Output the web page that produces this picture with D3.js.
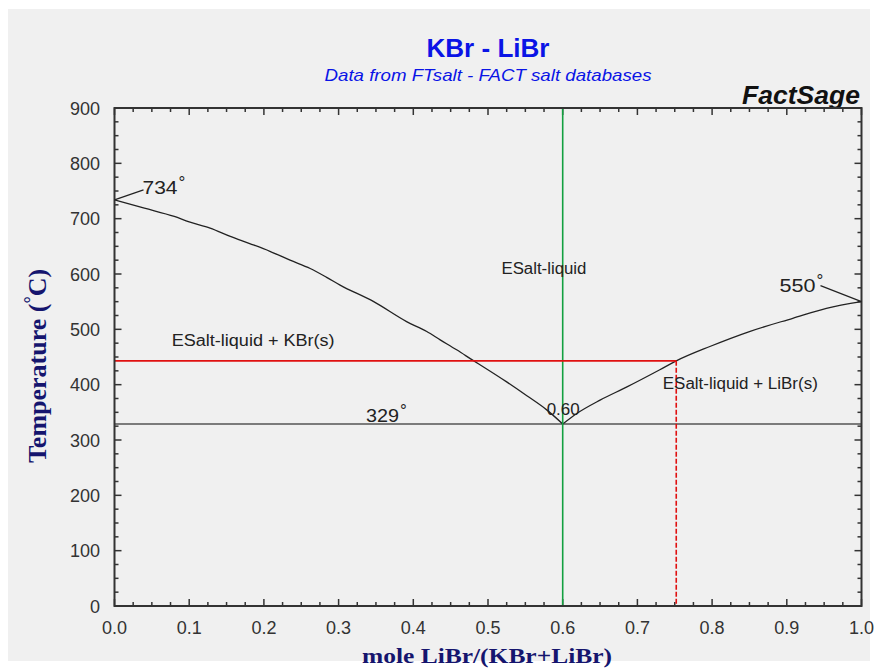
<!DOCTYPE html>
<html>
<head>
<meta charset="utf-8">
<script src="https://cdn.jsdelivr.net/npm/d3@7"></script>
<style>
  html, body { margin: 0; padding: 0; background: #ffffff; }
  svg { display: block; }
</style>
</head>
<body>
<svg id="chart" width="878" height="669"></svg>
<script>
// KBr - LiBr phase diagram: liquidus branches, eutectic line and a lever construction

// Liquidus branch in equilibrium with KBr(s): mole fraction LiBr vs temperature (°C)
const kbrLiquidusX = [0.000, 0.040, 0.080, 0.100, 0.128, 0.155, 0.181, 0.208, 0.235, 0.262, 0.284, 0.302, 0.347, 0.391, 0.418, 0.436, 0.458, 0.481, 0.494, 0.525, 0.552, 0.579, 0.600];
const kbrLiquidusT = [734, 719, 704, 694, 683, 668, 655, 641, 625, 610, 594, 580, 550, 514, 496, 481, 463, 443, 432, 405, 380, 354, 329];

// Liquidus branch in equilibrium with LiBr(s)
const librLiquidusX = [0.600, 0.619, 0.650, 0.686, 0.730, 0.752, 0.797, 0.850, 0.908, 0.953, 1.000];
const librLiquidusT = [329, 348, 372, 396, 427, 443, 469, 496, 520, 538, 550];

// Invariant points
const meltKBr = 734, meltLiBr = 550, eutecticT = 329, eutecticX = 0.60;

// Isotherm / composition markers
const isothermT = 443;
const isothermXEnd = 0.752;
const compositionX = 0.60;

// Tick values
const xTicks = [0.0, 0.1, 0.2, 0.3, 0.4, 0.5, 0.6, 0.7, 0.8, 0.9, 1.0];
const yTicks = [0, 100, 200, 300, 400, 500, 600, 700, 800, 900];

// Phase field labels, anchored at (mole fraction, temperature)
const fieldLabels = ["ESalt-liquid", "ESalt-liquid + KBr(s)", "ESalt-liquid + LiBr(s)"];
const fieldAnchors = [[0.518, 600], [0.0765, 470], [0.734, 392]];
const fieldWidths = [85, 163, 155];

const svg = d3.select("#chart");
const W = 878, H = 669;
const plotL = 114.5, plotR = 861.5, plotT = 108, plotB = 606;

svg.append("rect").attr("x", 8).attr("y", 9).attr("width", W - 16).attr("height", H - 17)
  .attr("fill", "#f0f0f0");

const x = d3.scaleLinear().domain([0, 1]).range([plotL, plotR]);
const y = d3.scaleLinear().domain([0, 900]).range([plotB, plotT]);

// Titles
svg.append("text").attr("x", 488).attr("y", 57).attr("text-anchor", "middle")
  .attr("font-family", "Liberation Sans, Arial, sans-serif").attr("font-weight", "bold")
  .attr("font-size", 25).attr("fill", "#0a14e6").attr("textLength", 123).attr("lengthAdjust", "spacingAndGlyphs")
  .text("KBr - LiBr");
svg.append("text").attr("x", 488).attr("y", 81).attr("text-anchor", "middle")
  .attr("font-family", "Liberation Sans, Arial, sans-serif").attr("font-style", "italic")
  .attr("font-size", 17).attr("fill", "#0a14e6").attr("textLength", 327).attr("lengthAdjust", "spacingAndGlyphs")
  .text("Data from FTsalt - FACT salt databases");
svg.append("text").attr("x", 860).attr("y", 104).attr("text-anchor", "end")
  .attr("font-family", "Liberation Sans, Arial, sans-serif").attr("font-style", "italic").attr("font-weight", "bold")
  .attr("font-size", 25).attr("fill", "#111").attr("textLength", 118).attr("lengthAdjust", "spacingAndGlyphs")
  .text("FactSage");

// Axes with inward ticks on all four sides
const minorX = d3.range(0, 1.0001, 0.025);
const minorY = d3.range(0, 900.1, 25);
const axisColor = "#333";
const tickG = svg.append("g").attr("stroke", axisColor).attr("stroke-width", 1.5);
minorX.forEach(v => {
  const major = Math.abs(v * 10 - Math.round(v * 10)) < 1e-6;
  const len = major ? 7 : 4;
  tickG.append("line").attr("x1", x(v)).attr("x2", x(v)).attr("y1", plotB).attr("y2", plotB - len);
  tickG.append("line").attr("x1", x(v)).attr("x2", x(v)).attr("y1", plotT).attr("y2", plotT + len);
});
minorY.forEach(v => {
  const major = v % 100 === 0;
  const len = major ? 7 : 4;
  tickG.append("line").attr("x1", plotL).attr("x2", plotL + len).attr("y1", y(v)).attr("y2", y(v));
  tickG.append("line").attr("x1", plotR).attr("x2", plotR - len).attr("y1", y(v)).attr("y2", y(v));
});

// Tick labels
const tickFont = "Liberation Sans, Arial, sans-serif";
svg.append("g").selectAll("text").data(xTicks).join("text")
  .attr("x", d => x(d)).attr("y", 634).attr("text-anchor", "middle")
  .attr("font-family", tickFont).attr("font-size", 18).attr("fill", "#333")
  .text(d => d3.format(".1f")(d));
svg.append("g").selectAll("text").data(yTicks).join("text")
  .attr("x", 100).attr("y", d => y(d) + 6.5).attr("text-anchor", "end")
  .attr("font-family", tickFont).attr("font-size", 18).attr("fill", "#333")
  .text(d => d);

// Axis titles
svg.append("text").attr("x", 487).attr("y", 663).attr("text-anchor", "middle")
  .attr("font-family", "Liberation Serif, Times New Roman, serif").attr("font-weight", "bold")
  .attr("font-size", 21).attr("fill", "#15156e").attr("textLength", 250).attr("lengthAdjust", "spacingAndGlyphs")
  .text("mole LiBr/(KBr+LiBr)");
const yTitle = svg.append("text").attr("transform", "translate(46,366) rotate(-90)")
  .attr("text-anchor", "middle")
  .attr("font-family", "Liberation Serif, Times New Roman, serif").attr("font-weight", "bold")
  .attr("font-size", 26).attr("fill", "#15156e");
yTitle.append("tspan").text("Temperature (");
yTitle.append("tspan").attr("font-size", 18).attr("dy", -9).text("°");
yTitle.append("tspan").attr("dy", 9).text("C)");

// Eutectic isotherm
svg.append("line").attr("x1", x(0)).attr("x2", x(1)).attr("y1", y(eutecticT)).attr("y2", y(eutecticT))
  .attr("stroke", "#555").attr("stroke-width", 1.6);

// Liquidus curves
const line = d3.line().x(d => x(d[0])).y(d => y(d[1])).curve(d3.curveMonotoneX);
svg.append("path").datum(d3.zip(kbrLiquidusX, kbrLiquidusT)).attr("d", line)
  .attr("fill", "none").attr("stroke", "#222").attr("stroke-width", 1.3);
svg.append("path").datum(d3.zip(librLiquidusX, librLiquidusT)).attr("d", line)
  .attr("fill", "none").attr("stroke", "#222").attr("stroke-width", 1.3);

// Composition marker
svg.append("line").attr("x1", x(compositionX)).attr("x2", x(compositionX)).attr("y1", y(900)).attr("y2", y(0))
  .attr("stroke", "#13a040").attr("stroke-width", 1.6);

// Isotherm to the LiBr liquidus and drop to the composition axis
svg.append("line").attr("x1", x(0)).attr("x2", x(isothermXEnd)).attr("y1", y(isothermT)).attr("y2", y(isothermT))
  .attr("stroke", "#e01010").attr("stroke-width", 1.6);
svg.append("line").attr("x1", x(isothermXEnd)).attr("x2", x(isothermXEnd)).attr("y1", y(isothermT)).attr("y2", y(0))
  .attr("stroke", "#e01010").attr("stroke-width", 1.6).attr("stroke-dasharray", "5,2");

// Frame
svg.append("rect").attr("x", plotL).attr("y", plotT).attr("width", plotR - plotL).attr("height", plotB - plotT)
  .attr("fill", "none").attr("stroke", axisColor).attr("stroke-width", 2);

// Invariant point labels with leader lines
const labFont = "Liberation Sans, Arial, sans-serif";
function degLabel(px, py, txt, width) {
  const t = svg.append("text").attr("x", px).attr("y", py)
    .attr("font-family", labFont).attr("font-size", 18).attr("fill", "#222");
  t.append("tspan").attr("textLength", width).attr("lengthAdjust", "spacingAndGlyphs").text(txt);
  t.append("tspan").attr("font-size", 17).attr("dy", -6).attr("dx", 1).text("°");
}
svg.append("line").attr("x1", x(0)).attr("y1", y(meltKBr)).attr("x2", x(0) + 29).attr("y2", y(meltKBr) - 10)
  .attr("stroke", "#222").attr("stroke-width", 1.2);
degLabel(x(0) + 28, y(meltKBr) - 6, String(meltKBr), 35);

svg.append("line").attr("x1", x(1)).attr("y1", y(meltLiBr)).attr("x2", x(1) - 41).attr("y2", y(meltLiBr) - 16)
  .attr("stroke", "#222").attr("stroke-width", 1.2);
degLabel(x(1) - 82, y(meltLiBr) - 10, String(meltLiBr), 36);

degLabel(366, y(eutecticT) - 2, String(eutecticT), 33);

svg.append("text").attr("x", x(eutecticX) - 16).attr("y", y(eutecticT) - 9)
  .attr("font-family", labFont).attr("font-size", 16).attr("fill", "#222")
  .attr("textLength", 33).attr("lengthAdjust", "spacingAndGlyphs")
  .text(d3.format(".2f")(eutecticX));

// Phase field labels
svg.append("g").selectAll("text").data(fieldLabels).join("text")
  .attr("x", (d, i) => x(fieldAnchors[i][0])).attr("y", (d, i) => y(fieldAnchors[i][1]))
  .attr("font-family", labFont).attr("font-size", 16).attr("fill", "#222")
  .attr("textLength", (d, i) => fieldWidths[i]).attr("lengthAdjust", "spacingAndGlyphs")
  .text(d => d);
</script>
</body>
</html>
